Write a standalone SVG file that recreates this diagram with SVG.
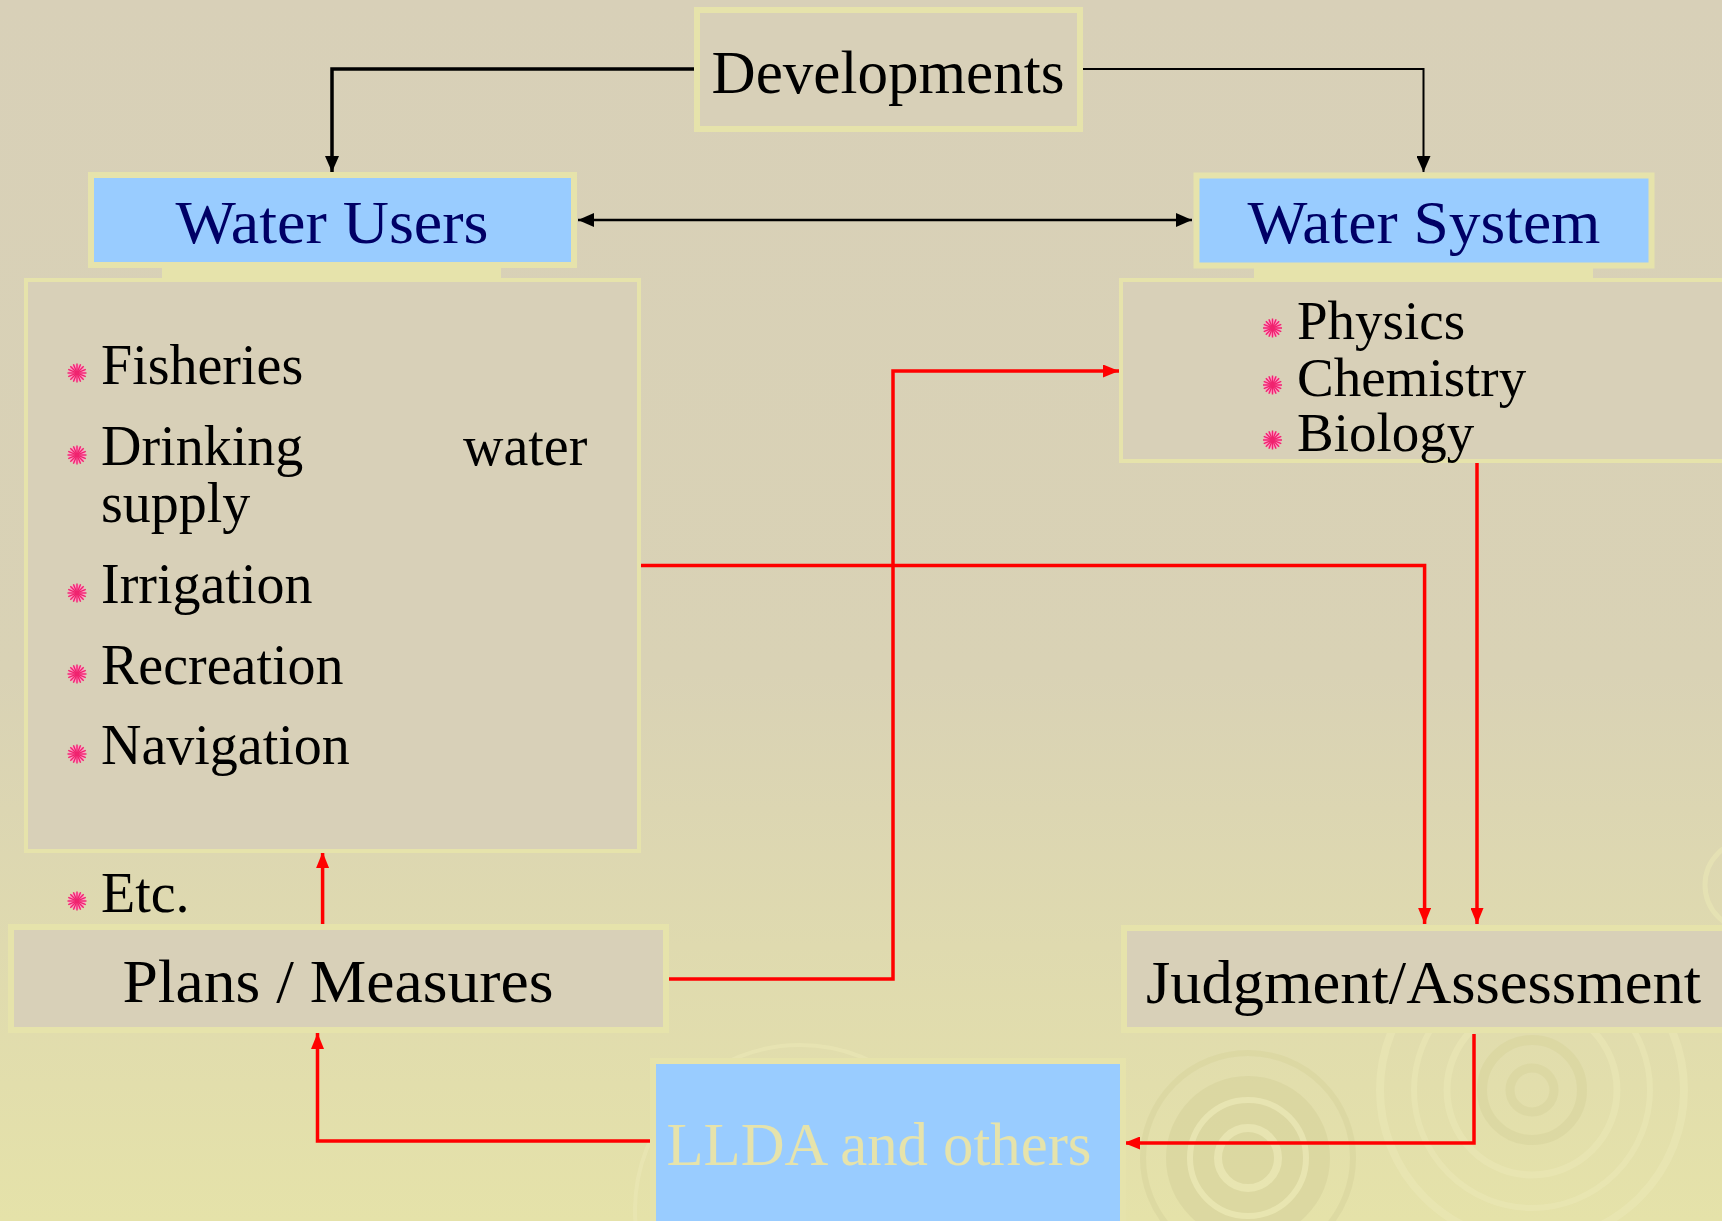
<svg xmlns="http://www.w3.org/2000/svg" width="1722" height="1221" viewBox="0 0 1722 1221">
<style>
text{font-family:"Liberation Serif","Times New Roman",serif;}
.title{font-size:62px;text-anchor:middle;}
.item{font-size:56px;fill:#000;}
.item2{font-size:55px;fill:#000;}
.box{fill:#d8d0b8;stroke:#e6e3ab;stroke-width:6;}
.blue{fill:#99ccff;stroke:#e6e3ab;stroke-width:6;}
.panel{fill:#d8d0b8;stroke:#e6e3ab;stroke-width:4;}
.tab{fill:#e6e3ab;}
.blk{fill:none;stroke:#000;}
.red{fill:none;stroke:#ff0000;stroke-width:3.5;}
.ring{fill:none;stroke:#d9d59e;}
.ringl{fill:none;stroke:#ebe8b6;}
</style>
<defs>
<linearGradient id="bg" x1="0" y1="0" x2="0" y2="1">
<stop offset="0" stop-color="#d8d0b8"/>
<stop offset="0.55" stop-color="#d9d2b5"/>
<stop offset="1" stop-color="#e5e2a9"/>
</linearGradient>
<marker id="ab" viewBox="0 0 16 14" refX="16" refY="7" markerWidth="16" markerHeight="14" markerUnits="userSpaceOnUse" orient="auto-start-reverse">
<path d="M0,0 L16,7 L0,14 Z" fill="#000"/>
</marker>
<marker id="ar" viewBox="0 0 16 13" refX="16" refY="6.5" markerWidth="16" markerHeight="13" markerUnits="userSpaceOnUse" orient="auto">
<path d="M0,0 L16,6.5 L0,13 Z" fill="#ff0000"/>
</marker>
<symbol id="bul" viewBox="-10 -10 20 20">
<circle r="8.5" fill="#ff9cc6"/>
<g stroke="#f0236f" stroke-width="1.4">
<line x1="0" y1="-9.5" x2="0" y2="9.5"/>
<line x1="-9.5" y1="0" x2="9.5" y2="0"/>
<line x1="-6.7" y1="-6.7" x2="6.7" y2="6.7"/>
<line x1="-6.7" y1="6.7" x2="6.7" y2="-6.7"/>
<line x1="-3.6" y1="-8.8" x2="3.6" y2="8.8"/>
<line x1="3.6" y1="-8.8" x2="-3.6" y2="8.8"/>
<line x1="-8.8" y1="-3.6" x2="8.8" y2="3.6"/>
<line x1="-8.8" y1="3.6" x2="8.8" y2="-3.6"/>
</g>
<circle r="2" fill="#f0236f"/>
</symbol>
</defs>

<rect width="1722" height="1221" fill="url(#bg)"/>

<g id="background-ripples" opacity="0.6">
<circle class="ring" cx="1532" cy="1090" r="22" stroke-width="9"/>
<circle class="ring" cx="1532" cy="1090" r="50" stroke-width="10"/>
<circle class="ringl" cx="1532" cy="1090" r="85" stroke-width="7"/>
<circle class="ringl" cx="1532" cy="1090" r="118" stroke-width="6"/>
<circle class="ringl" cx="1532" cy="1090" r="152" stroke-width="8"/>
<circle cx="1248" cy="1158" r="82" fill="#d7d39c"/>
<circle class="ringl" cx="1248" cy="1158" r="30" stroke-width="8"/>
<circle class="ringl" cx="1248" cy="1158" r="58" stroke-width="6"/>
<circle class="ring" cx="1248" cy="1158" r="105" stroke-width="6"/>
<circle class="ringl" cx="800" cy="1210" r="120" stroke-width="5"/>
<circle class="ringl" cx="800" cy="1210" r="165" stroke-width="4"/>
<circle class="ringl" cx="1750" cy="885" r="45" stroke-width="5"/>
</g>

<g id="connectors">
<path class="blk" d="M694,69 H332 V172" stroke-width="3.5" marker-end="url(#ab)"/>
<path class="blk" d="M1083,69 H1423.5 V172" stroke-width="2" marker-end="url(#ab)"/>
<path class="blk" d="M578,220 H1192" stroke-width="2.5" marker-start="url(#ab)" marker-end="url(#ab)"/>
<path class="red" d="M322.6,924 V852" marker-end="url(#ar)"/>
<path class="red" d="M656,1141 H317.5 V1033" marker-end="url(#ar)"/>
<path class="red" d="M669,979 H893 V371 H1119" marker-end="url(#ar)"/>
<path class="red" d="M640,565.6 H1424.6 V924" marker-end="url(#ar)"/>
<path class="red" d="M1477,463 V924" marker-end="url(#ar)"/>
<path class="red" d="M1474,1034 V1143 H1124" marker-end="url(#ar)"/>
</g>

<g id="developments">
<rect class="box" x="697" y="10" width="383" height="119"/>
<text class="title" x="888" y="93" textLength="353" lengthAdjust="spacingAndGlyphs">Developments</text>
</g>

<g id="water-users">
<rect class="blue" x="91" y="175" width="483" height="90"/>
<rect class="tab" x="162" y="265" width="339" height="14"/>
<text class="title" x="332" y="243" fill="#000066" textLength="313" lengthAdjust="spacingAndGlyphs">Water Users</text>
</g>

<g id="water-users-list">
<rect class="panel" x="26" y="280" width="613" height="571"/>
<use href="#bul" x="67" y="363" width="20" height="20"/>
<text class="item" x="101" y="384">Fisheries</text>
<use href="#bul" x="67" y="445" width="20" height="20"/>
<text class="item" x="101" y="465">Drinking</text>
<text class="item" x="463" y="465">water</text>
<text class="item" x="101" y="522">supply</text>
<use href="#bul" x="67" y="583" width="20" height="20"/>
<text class="item" x="101" y="603">Irrigation</text>
<use href="#bul" x="67" y="664" width="20" height="20"/>
<text class="item" x="101" y="684">Recreation</text>
<use href="#bul" x="67" y="744" width="20" height="20"/>
<text class="item" x="101" y="764">Navigation</text>
</g>

<g id="etc">
<use href="#bul" x="67" y="891" width="20" height="20"/>
<text class="item" x="101" y="912">Etc.</text>
</g>

<g id="water-system">
<rect class="blue" x="1196.5" y="175.5" width="455" height="90"/>
<rect class="tab" x="1254" y="265" width="339" height="14"/>
<text class="title" x="1424" y="243" fill="#000066" textLength="353" lengthAdjust="spacingAndGlyphs">Water System</text>
</g>

<g id="water-system-list">
<rect class="panel" x="1121" y="280" width="620" height="181"/>
<use href="#bul" x="1262.5" y="318" width="20" height="20"/>
<text class="item2" x="1297" y="339">Physics</text>
<use href="#bul" x="1262.5" y="375" width="20" height="20"/>
<text class="item2" x="1297" y="396">Chemistry</text>
<use href="#bul" x="1262.5" y="430" width="20" height="20"/>
<text class="item2" x="1297" y="451">Biology</text>
</g>

<g id="plans-measures">
<rect class="box" x="11" y="927" width="655" height="103"/>
<text class="title" x="338" y="1002" textLength="431" lengthAdjust="spacingAndGlyphs">Plans / Measures</text>
</g>

<g id="judgment-assessment">
<rect class="box" x="1124" y="928" width="620" height="102"/>
<text class="title" x="1423.5" y="1003" textLength="555" lengthAdjust="spacingAndGlyphs">Judgment/Assessment</text>
</g>

<g id="llda">
<rect class="blue" x="653" y="1061" width="470" height="200"/>
<text class="title" x="879" y="1165" fill="#e6e3ab" textLength="425" lengthAdjust="spacingAndGlyphs">LLDA and others</text>
</g>
</svg>
